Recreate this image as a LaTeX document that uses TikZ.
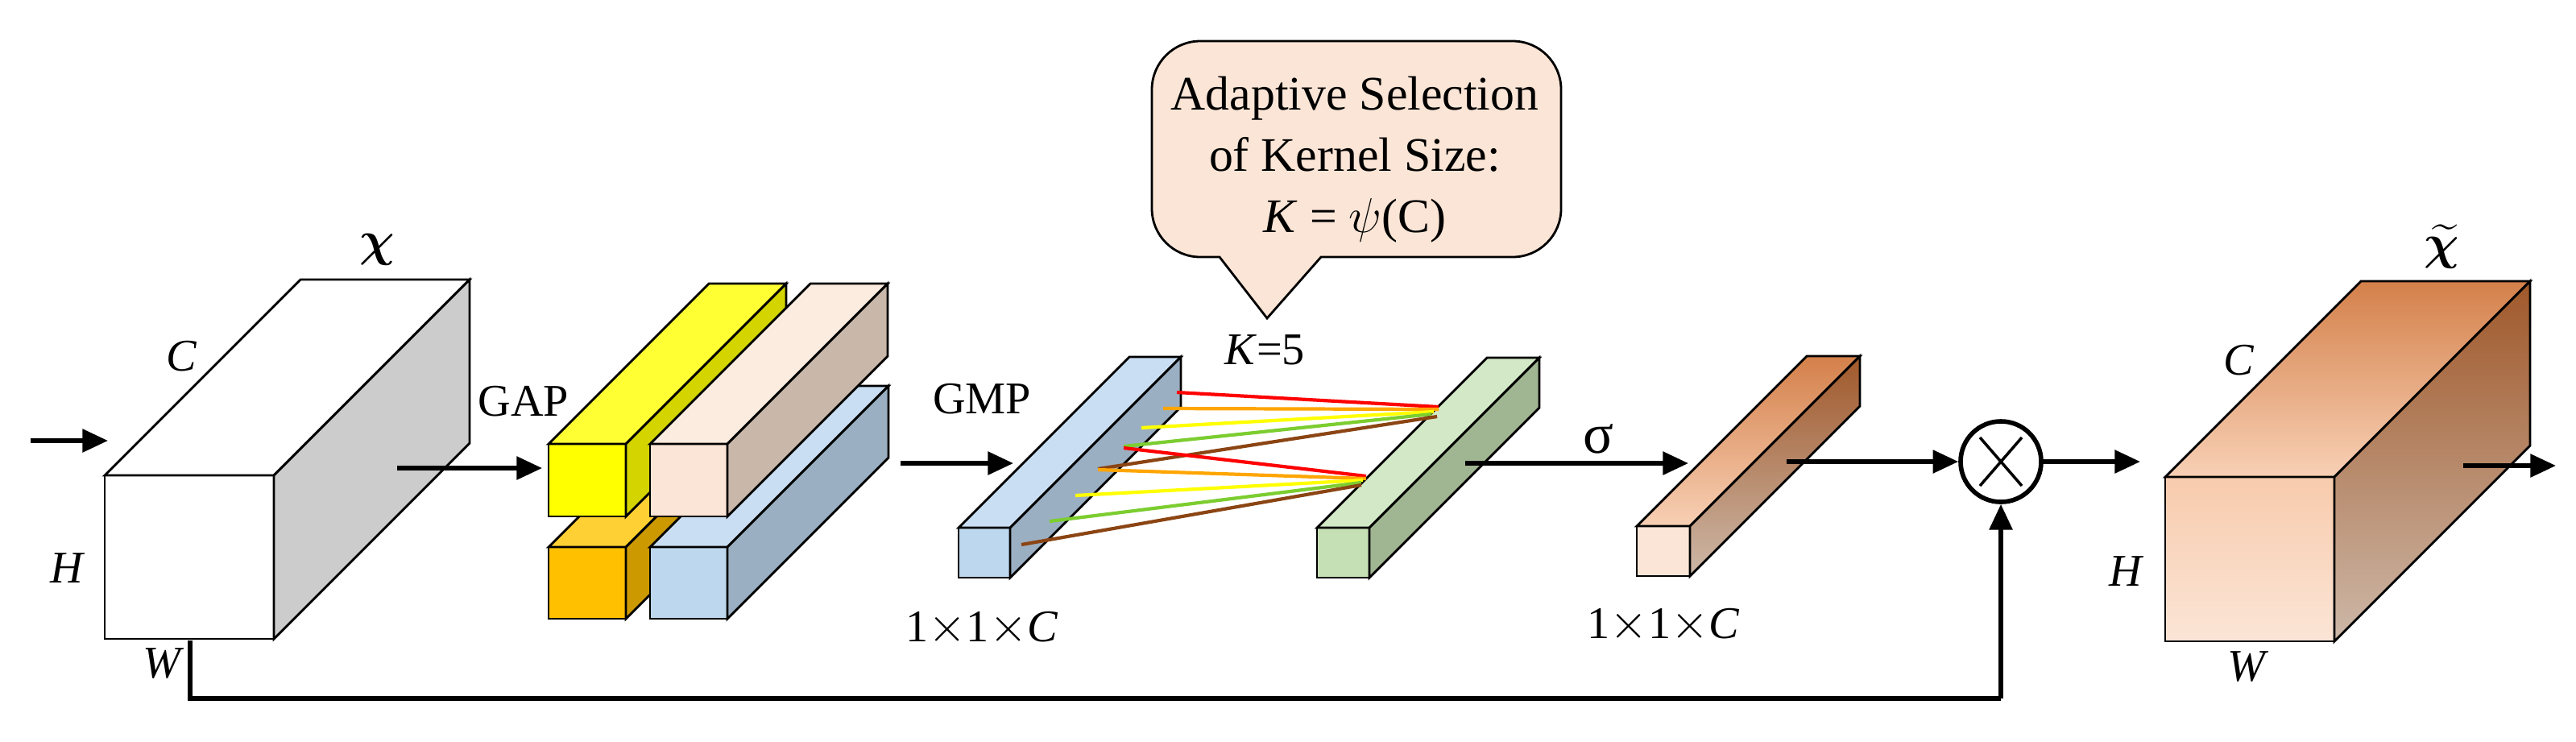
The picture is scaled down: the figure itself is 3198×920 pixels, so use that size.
\documentclass[tikz,border=0pt]{standalone}
\usepackage{amsmath,amssymb,bm}
\usepackage{fontspec}
\setmainfont{Liberation Serif}
\usetikzlibrary{arrows.meta,calc}
\definecolor{ylF}{HTML}{FFFF00}\definecolor{ylT}{HTML}{FFFF33}\definecolor{ylS}{HTML}{D4D400}
\definecolor{pcF}{HTML}{FBE5D6}\definecolor{pcT}{HTML}{FCEBDF}\definecolor{pcS}{HTML}{C9B8AA}
\definecolor{orF}{HTML}{FFC000}\definecolor{orT}{HTML}{FFD033}\definecolor{orS}{HTML}{CC9A00}
\definecolor{blF}{HTML}{BDD7EE}\definecolor{blT}{HTML}{C9DEF2}\definecolor{blS}{HTML}{9BAFC2}
\definecolor{grF}{HTML}{C5E0B4}\definecolor{grT}{HTML}{D3E8C6}\definecolor{grS}{HTML}{A0B592}
\definecolor{cuA}{HTML}{D4804A}\definecolor{cuB}{HTML}{F8D0B5}\definecolor{cuC}{HTML}{A0582A}
\definecolor{cuD}{HTML}{CDB8A8}\definecolor{cuE}{HTML}{F8CBAD}\definecolor{cuG}{HTML}{FBE5D6}
\definecolor{lnR}{HTML}{FF0000}\definecolor{lnO}{HTML}{FFA500}\definecolor{lnY}{HTML}{FFFF00}
\definecolor{lnG}{HTML}{7CCD30}\definecolor{lnB}{HTML}{8B4513}
\newcommand\mycub[8]{%
  \path[draw=black,line width=0.8pt,#6] (#1,#2) rectangle ({#1+#3},{#2+#4});
  \path[draw=black,line width=0.8pt,#7] (#1,#2)--({#1+#5},{#2-#5})--({#1+#3+#5},{#2-#5})--({#1+#3},#2)--cycle;
  \path[draw=black,line width=0.8pt,#8] ({#1+#3},#2)--({#1+#3+#5},{#2-#5})--({#1+#3+#5},{#2+#4-#5})--({#1+#3},{#2+#4})--cycle;}
\begin{document}
\begin{tikzpicture}[x=0.01cm,y=-0.01cm,
  every node/.style={font=\fontsize{16}{20.5}\selectfont,inner sep=0pt},
  arr/.style={line width=1.5pt,-{Triangle[length=9pt,width=8pt]}},
  fb/.style={line width=1.5pt},
  kl/.style={line width=1.2pt}]
\useasboundingbox (0,0) rectangle (3198,920);
% left cube
\mycub{130}{590}{210}{203}{243}{fill=white}{fill=white}{fill=black!20}
\node (chi) at (468,310) {$\bm{\chi}$};
\node (lC) at (226,442) {\textit{C}};
\node (lH) at (84,705) {\textit{H}};
\node (lW) at (203,823) {\textit{W}};
\coordinate (in0) at (38,547); \coordinate (in1) at (134,547);
\draw[arr] (in0) -- (in1);
\coordinate (g0) at (493,581); \coordinate (g1) at (673,581);
\draw[arr] (g0) -- (g1);
\node (gap) at (650,498) {GAP};
% GAP bars
\mycub{681}{679}{96}{89}{199}{fill=orF}{fill=orT}{fill=orS}
\mycub{807}{679}{96}{89}{200}{fill=blF}{fill=blT}{fill=blS}
\mycub{681}{551}{96}{90}{199}{fill=ylF}{fill=ylT}{fill=ylS}
\mycub{807}{551}{96}{90}{199}{fill=pcF}{fill=pcT}{fill=pcS}
% GMP
\coordinate (m0) at (1118,575); \coordinate (m1) at (1258,575);
\draw[arr] (m0) -- (m1);
\node (gmp) at (1219,495) {GMP};
\mycub{1190}{655}{64}{62}{212}{fill=blF}{fill=blT}{fill=blS}
\mycub{1635}{655}{65}{62}{211}{fill=grF}{fill=grT}{fill=grS}
\node (d1) at (1219,780) {1$\times$1$\times$\textit{C}};
% kernel lines
\draw[kl,lnR] (1461,487) -- (1786,505);
\draw[kl,lnO] (1444,507) -- (1786,508);
\draw[kl,lnY] (1417,531) -- (1780,511);
\draw[kl,lnG] (1395,554) -- (1777,514);
\draw[kl,lnB] (1363,582) -- (1784,517);
\draw[kl,lnR] (1395,556) -- (1696,591);
\draw[kl,lnO] (1363,583) -- (1696,594);
\draw[kl,lnY] (1335,615) -- (1692,596);
\draw[kl,lnG] (1303,647) -- (1690,599);
\draw[kl,lnB] (1268,676) -- (1690,602);
% callout
\draw[line width=0.8pt,fill=pcF] (1514,319) [rounded corners=0.6cm] -- (1430,319) -- (1430,51) -- (1938,51) -- (1938,319) [sharp corners] -- (1640,319) -- (1573,395) -- cycle;
\node[align=center,font=\fontsize{17}{21.5}\selectfont] (call) at (1682,198) {Adaptive Selection\\of Kernel Size:\\\textit{K} = $\psi$(C)};
\node (k5) at (1570,434) {\textit{K}=5};
% sigma
\coordinate (s0) at (1819,575); \coordinate (s1) at (2096,575);
\draw[arr] (s0) -- (s1);
\node (sig) at (1984,545) {\fontsize{20}{20}\selectfont σ};
\mycub{2032}{653}{66}{62}{211}{top color=cuG,bottom color=pcF}{top color=cuA,bottom color=cuB}{top color=cuC,bottom color=cuD}
\node (d2) at (2065,776) {1$\times$1$\times$\textit{C}};
% multiply
\node[circle,draw,line width=1.6pt,minimum size=1cm] (mul) at (2484,573) {};
\draw[line width=1pt] ($(mul.center)+(-26,-30)$) -- ($(mul.center)+(26,30)$);
\draw[line width=1pt] ($(mul.center)+(26,-30)$) -- ($(mul.center)+(-26,30)$);
\coordinate (o0) at (2218,573);
\draw[arr] (o0) -- (mul.west);
\coordinate (o1) at (2657,573);
\draw[arr] (mul.east) -- (o1);
\coordinate (f0) at (236,795); \coordinate (f1) at (236,867); \coordinate (f2) at (2484,867);
\draw[fb] (f0) -- (f1) -- (f2);
\draw[arr] (f2) -- (mul.south);
% right cube
\mycub{2688}{592}{210}{204}{243}{top color=cuE,bottom color=cuG}{top color=cuA,bottom color=cuB}{top color=cuC,bottom color=cuD}
\node (chit) at (3031,306) {$\widetilde{\bm{\chi}}$};
\node (rC) at (2779,447) {\textit{C}};
\node (rH) at (2640,709) {\textit{H}};
\node (rW) at (2791,827) {\textit{W}};
\coordinate (x0) at (3058,578); \coordinate (x1) at (3173,578);
\draw[arr] (x0) -- (x1);
\end{tikzpicture}
\end{document}
